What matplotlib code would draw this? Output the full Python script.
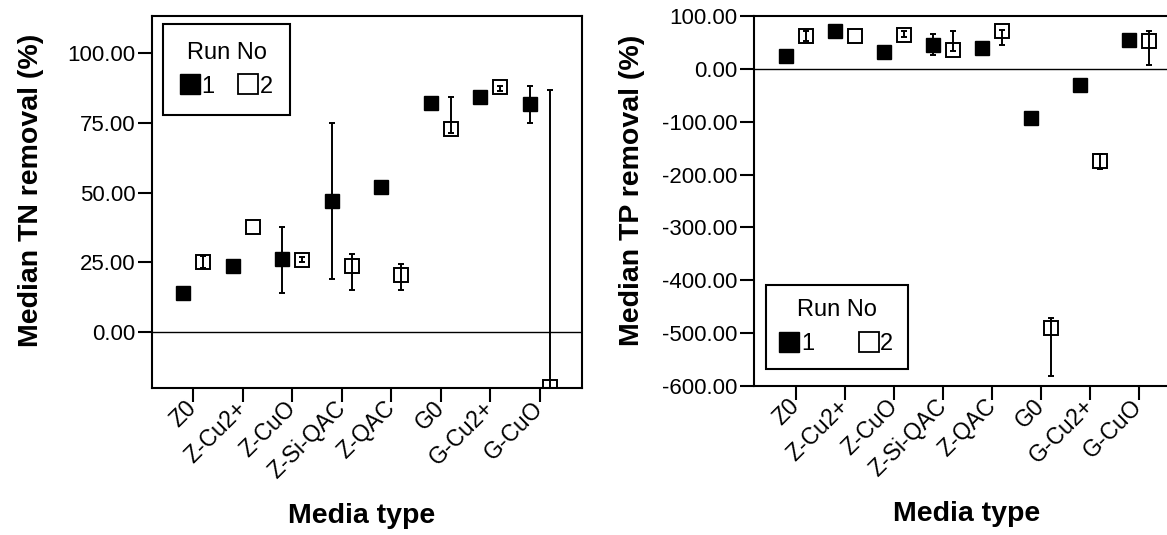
import matplotlib
matplotlib.use("Agg")
import matplotlib.pyplot as plt
import matplotlib.transforms as mtransforms
from matplotlib.lines import Line2D

plt.rcParams["font.family"] = ["Liberation Sans", "DejaVu Sans"]

MEDIA = ["Z0", "Z-Cu2+", "Z-CuO", "Z-Si-QAC", "Z-QAC", "G0", "G-Cu2+", "G-CuO"]

# Median TN removal (%), run 1 and run 2, with error bar ends (None = no bar)
TN_RUN1 = [14.1, 23.7, 26.1, 47.0, 52.1, 82.0, 84.4, 81.7]
TN_RUN1_LO = [None, None, 14.1, 18.9, None, None, None, 75.0]
TN_RUN1_HI = [None, None, 37.8, 75.0, None, None, None, 88.2]
TN_RUN2 = [25.0, 37.8, 25.9, 23.8, 20.4, 72.7, 87.8, -19.5]
TN_RUN2_LO = [23.1, None, 25.2, 15.1, 15.1, 71.3, 86.6, -60.0]
TN_RUN2_HI = [27.4, None, 27.0, 28.0, 24.6, 84.4, 88.2, 86.8]

# Median TP removal (%)
TP_RUN1 = [25.1, 72.4, 32.7, 45.9, 39.7, -92.6, -30.2, 55.4]
TP_RUN1_LO = [None, None, None, 25.7, None, None, None, None]
TP_RUN1_HI = [None, None, None, 66.2, None, None, None, None]
TP_RUN2 = [63.0, 63.0, 64.3, 36.5, 71.1, -489.6, -174.7, 52.2]
TP_RUN2_LO = [52.2, None, 59.7, 33.3, 44.6, -581.0, -190.4, 8.1]
TP_RUN2_HI = [72.4, None, 72.4, 72.4, 74.3, -472.0, -160.7, 72.4]

OFFSET = 0.2


def draw_run(ax, xs, vals, lo, hi, filled):
    ex, ey, elo, ehi = [], [], [], []
    for x, v, l, h in zip(xs, vals, lo, hi):
        if l is not None:
            ex.append(x)
            ey.append(v)
            elo.append(v - l)
            ehi.append(h - v)
    if ex:
        ax.errorbar(ex, ey, yerr=[elo, ehi], fmt="none", ecolor="k",
                    elinewidth=1.4, capsize=2.5, capthick=1.4, zorder=3)
    if filled:
        ax.plot(xs, vals, "s", color="k", markersize=10.5, ls="none", zorder=4)
    else:
        ax.plot(xs, vals, "s", mfc="none", mec="k", mew=1.4, markersize=9.5,
                ls="none", zorder=4)


def panel(fig, rect, run1, run2, ylim, yticks, ylabel, xlim, leg_anchor,
          leg_loc, leg_pad, leg_colsp):
    ax = fig.add_axes(rect)
    x = list(range(len(MEDIA)))
    ax.axhline(0, color="k", lw=1.0, zorder=1)
    draw_run(ax, [i - OFFSET for i in x], *run1, filled=True)
    draw_run(ax, [i + OFFSET for i in x], *run2, filled=False)

    ax.set_xlim(*xlim)
    ax.set_ylim(*ylim)
    ax.set_yticks(yticks)
    ax.set_yticklabels([f"{t:.2f}" for t in yticks], fontsize=16)
    ax.set_xticks(x)
    ax.set_xticklabels(MEDIA, fontsize=16.5, rotation=45, ha="right",
                       va="center", rotation_mode="anchor")
    shift = mtransforms.ScaledTranslation(5 / 72, -6 / 72, fig.dpi_scale_trans)
    for lab in ax.get_xticklabels():
        lab.set_transform(lab.get_transform() + shift)
    ax.tick_params(direction="out", length=10, width=1.5, pad=2, color="k")
    for s in ax.spines.values():
        s.set_linewidth(1.5)

    ax.set_ylabel(ylabel, fontsize=20.5, fontweight="bold")
    ax.yaxis.set_label_coords(-0.252, 0.53)
    ax.set_xlabel("Media type", fontsize=20.5, fontweight="bold")
    ax.xaxis.set_label_coords(0.488, -0.31)

    handles = [
        Line2D([], [], marker="s", ls="none", color="k", markersize=15),
        Line2D([], [], marker="s", ls="none", mfc="white", mec="k", mew=1.3,
               markersize=15),
    ]
    leg = ax.legend(handles, ["1", "2"], title="Run No", ncol=2, loc=leg_loc,
                    bbox_to_anchor=leg_anchor, frameon=True, fancybox=False,
                    edgecolor="k", framealpha=1, handlelength=0.8,
                    handletextpad=0.1, columnspacing=leg_colsp,
                    borderpad=leg_pad, borderaxespad=0, fontsize=17,
                    title_fontsize=17)
    leg.get_frame().set_linewidth(1.5)
    return ax


fig = plt.figure(figsize=(11.67, 5.35), dpi=100)

panel(fig, [0.1302, 0.2748, 0.3685, 0.6953],
      (TN_RUN1, TN_RUN1_LO, TN_RUN1_HI), (TN_RUN2, TN_RUN2_LO, TN_RUN2_HI),
      (-20, 113.3), [0, 25, 50, 75, 100], "Median TN removal (%)",
      (-0.83, 7.85), (0.025, 0.978), "upper left", 0.75, 1.0)

panel(fig, [0.6464, 0.2785, 0.3733, 0.6916],
      (TP_RUN1, TP_RUN1_LO, TP_RUN1_HI), (TP_RUN2, TP_RUN2_LO, TP_RUN2_HI),
      (-600, 100), [100, 0, -100, -200, -300, -400, -500, -600],
      "Median TP removal (%)",
      (-0.85, 8.04), (0.026, 0.046), "lower left", 0.6, 1.9)

fig.savefig("out.png", dpi=100, facecolor="white")
